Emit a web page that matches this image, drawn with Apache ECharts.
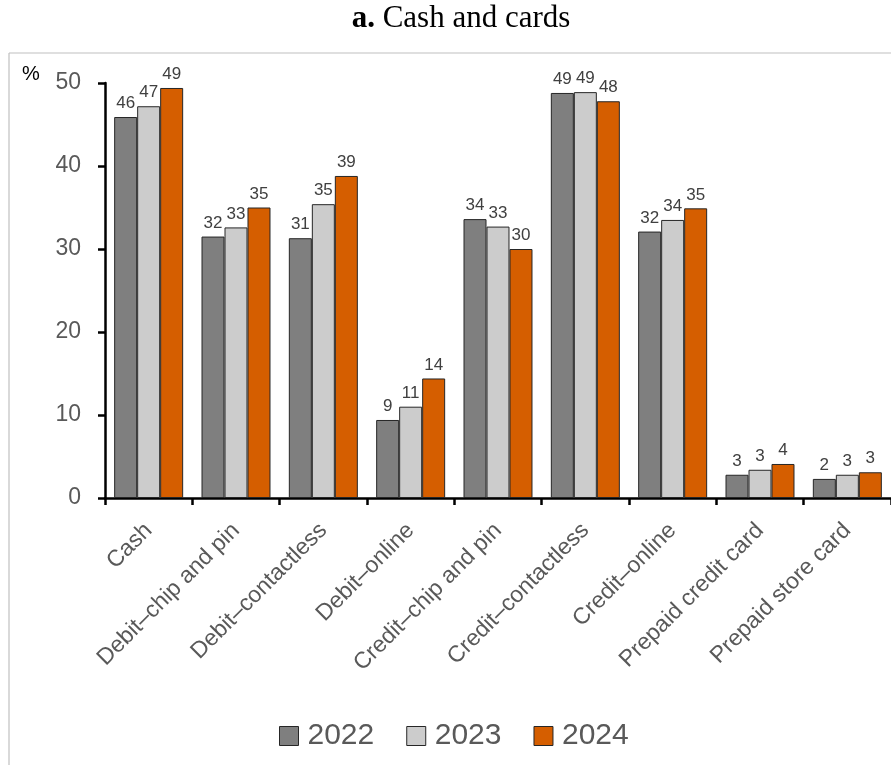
<!DOCTYPE html>
<html>
<head>
<meta charset="utf-8">
<script src="https://cdn.jsdelivr.net/npm/echarts@6/dist/echarts.min.js"></script>
<style>
html,body{margin:0;padding:0;background:#fff;}
#chart{width:891px;height:765px;}
</style>
</head>
<body>
<div id="chart"></div>
<script>
var categories = ['Cash','Debit–chip and pin','Debit–contactless','Debit–online','Credit–chip and pin','Credit–contactless','Credit–online','Prepaid credit card','Prepaid store card'];
var seriesNames = ['2022','2023','2024'];
var values2022 = [45.9, 31.5, 31.3, 9.4, 33.6, 48.8, 32.1, 2.8, 2.3];
var values2023 = [47.2, 32.6, 35.4, 11.0, 32.7, 48.9, 33.5, 3.4, 2.8];
var values2024 = [49.4, 35.0, 38.8, 14.4, 30.0, 47.8, 34.9, 4.1, 3.1];
var yTicks = [0, 10, 20, 30, 40, 50];

var colors = ['#7f7f7f', '#cccccc', '#d55e00'];
var allValues = [values2022, values2023, values2024];
var sans = 'Liberation Sans, Arial, sans-serif';

var chart = echarts.init(document.getElementById('chart'));
var series = seriesNames.map(function (name, i) {
  return {
    name: name,
    type: 'bar',
    data: allValues[i],
    barCategoryGap: '21%',
    barGap: '0%',
    itemStyle: { color: colors[i], borderColor: '#262626', borderWidth: 1 },
    label: {
      show: true,
      position: 'top',
      distance: 5,
      color: '#404040',
      fontFamily: sans,
      fontSize: 17,
      formatter: function (p) { return Math.round(p.value); }
    }
  };
});

chart.setOption({
  animation: false,
  backgroundColor: '#ffffff',
  graphic: [
    { type: 'line', shape: { x1: 9, y1: 53, x2: 891, y2: 53 }, style: { stroke: '#c0c0c0', lineWidth: 1.2 } },
    { type: 'line', shape: { x1: 9, y1: 53, x2: 9, y2: 765 }, style: { stroke: '#c0c0c0', lineWidth: 1.2 } },
    { type: 'text', x: 461, y: 19, style: {
        text: '{b|a.} Cash and cards', textAlign: 'center', textVerticalAlign: 'middle',
        font: '31px Liberation Serif', fill: '#000',
        rich: { b: { fontFamily: 'Liberation Serif', fontSize: 31, fontWeight: 'bold', fill: '#000' } }
    } },
    { type: 'text', left: 22, top: 64, style: { text: '%', fontSize: 20, fill: '#000', fontFamily: sans } }
  ],
  legend: {
    data: seriesNames,
    top: 716,
    left: 274,
    itemWidth: 19,
    itemHeight: 19,
    itemGap: 32,
    icon: 'rect',
    itemStyle: { borderColor: '#262626', borderWidth: 1 },
    textStyle: { fontSize: 30, color: '#595959', fontFamily: sans, padding: [0, 0, 0, 4] }
  },
  grid: { left: 105, top: 83, width: 788, height: 415, containLabel: false },
  xAxis: {
    type: 'category',
    data: categories,
    axisLine: { show: true, lineStyle: { color: '#000', width: 2.5 } },
    axisTick: { show: true, length: 7, lineStyle: { color: '#000', width: 2.5 }, alignWithLabel: false },
    axisLabel: {
      rotate: 45,
      interval: 0,
      margin: 29,
      fontSize: 23,
      color: '#595959',
      fontFamily: sans
    }
  },
  yAxis: {
    type: 'value',
    min: 0,
    max: 50,
    interval: 10,
    axisLine: { show: true, lineStyle: { color: '#000', width: 2.5 } },
    axisTick: { show: true, length: 7, lineStyle: { color: '#000', width: 2.5 } },
    splitLine: { show: false },
    axisLabel: {
      margin: 24,
      fontSize: 23,
      color: '#595959',
      fontFamily: sans,
      formatter: function (v) { return yTicks.indexOf(v) >= 0 ? String(v) : ''; }
    }
  },
  series: series
});
</script>
</body>
</html>
